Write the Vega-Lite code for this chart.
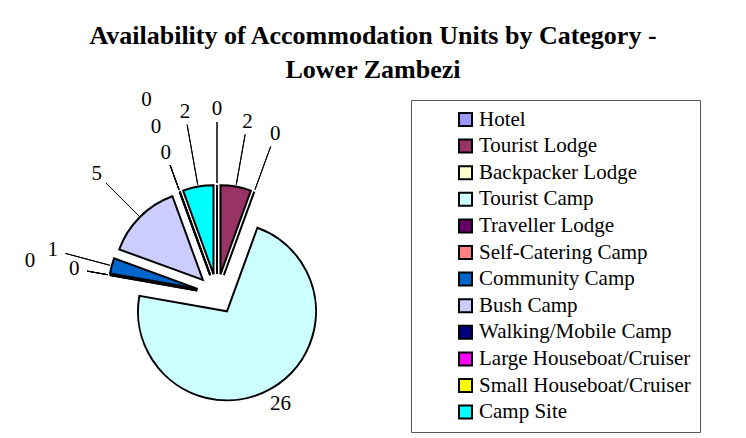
{
  "$schema": "https://vega.github.io/schema/vega-lite/v6.json",
  "width": 434,
  "height": 408,
  "autosize": {"type": "none"},
  "padding": {"left": 0, "top": 90, "right": 312, "bottom": 0},
  "background": "white",
  "config": {"view": {"stroke": null}},
  "title": {
    "text": ["Availability of Accommodation Units by Category -", "Lower Zambezi"],
    "font": "Liberation Serif",
    "fontSize": 26,
    "fontWeight": "bold",
    "color": "black",
    "anchor": "middle",
    "frame": "group",
    "dx": 156,
    "lineHeight": 34,
    "offset": 6
  },
  "data": {
    "values": [
      {"category": "Hotel", "value": 0},
      {"category": "Tourist Lodge", "value": 2},
      {"category": "Backpacker Lodge", "value": 0},
      {"category": "Tourist Camp", "value": 26},
      {"category": "Traveller Lodge", "value": 0},
      {"category": "Self-Catering Camp", "value": 0},
      {"category": "Community Camp", "value": 1},
      {"category": "Bush Camp", "value": 5},
      {"category": "Walking/Mobile Camp", "value": 0},
      {"category": "Large Houseboat/Cruiser", "value": 0},
      {"category": "Small Houseboat/Cruiser", "value": 0},
      {"category": "Camp Site", "value": 2}
    ]
  },
  "transform": [
    {"window": [{"op": "row_number", "as": "idx"}]},
    {"stack": "value", "groupby": [], "sort": [{"field": "idx", "order": "ascending"}], "as": ["v0", "v1"]}
  ],
  "resolve": {"scale": {"radius": "independent"}},
  "layer": [
    {
      "mark": {
        "type": "arc",
        "radius": 89,
        "stroke": "black",
        "strokeWidth": 2,
        "strokeJoin": "miter",
        "xOffset": {"expr": "20*sin((scale('theta', datum.v0) + scale('theta', datum.v1))/2)"},
        "yOffset": {"expr": "-20*cos((scale('theta', datum.v0) + scale('theta', datum.v1))/2)"}
      },
      "encoding": {
        "theta": {"field": "v0", "type": "quantitative", "stack": null, "scale": {"domain": [0, 36], "range": [0, 6.283185307179586]}},
        "theta2": {"field": "v1"},
        "color": {
          "field": "category",
          "type": "nominal",
          "sort": null,
          "scale": {
            "domain": ["Hotel", "Tourist Lodge", "Backpacker Lodge", "Tourist Camp", "Traveller Lodge", "Self-Catering Camp", "Community Camp", "Bush Camp", "Walking/Mobile Camp", "Large Houseboat/Cruiser", "Small Houseboat/Cruiser", "Camp Site"],
            "range": ["#9999FF", "#993366", "#FFFFCC", "#CCFFFF", "#660066", "#FF8080", "#0066CC", "#CCCCFF", "#000080", "#FF00FF", "#FFFF00", "#00FFFF"]
          },
          "legend": {
            "orient": "none",
            "legendX": 411,
            "legendY": 10,
            "title": null,
            "labelFont": "Liberation Serif",
            "labelFontSize": 21,
            "labelColor": "black",
            "labelLimit": 600,
            "labelOffset": 3,
            "labelExpr": "datum.label + '\u00a0\u00a0\u00a0\u00a0\u00a0\u00a0\u00a0\u00a0\u00a0\u00a0\u00a0\u00a0\u00a0\u00a0\u00a0\u00a0\u00a0\u00a0\u00a0\u00a0'",
            "symbolType": "square",
            "symbolSize": 169,
            "symbolStrokeColor": "black",
            "symbolStrokeWidth": 2,
            "symbolOffset": 35,
            "rowPadding": 4.6,
            "padding": 9,
            "strokeColor": "#555555"
          }
        }
      }
    },
    {
      "mark": {
        "type": "arc",
        "radius2": 91,
        "fill": null,
        "filled": false,
        "stroke": "black",
        "strokeWidth": 1,
        "thetaOffset": {"expr": "(scale('theta', datum.v1) - scale('theta', datum.v0))/2"},
        "theta2Offset": {"expr": "(scale('theta', datum.v1) - scale('theta', datum.v0))/2"},
        "xOffset": {"expr": "20*sin((scale('theta', datum.v0) + scale('theta', datum.v1))/2)"},
        "yOffset": {"expr": "-20*cos((scale('theta', datum.v0) + scale('theta', datum.v1))/2)"}
      },
      "encoding": {
        "theta": {"field": "v0", "type": "quantitative", "stack": null},
        "theta2": {"field": "v0"},
        "radius": {
          "field": "idx",
          "type": "quantitative",
          "scale": {"type": "linear", "zero": false, "nice": false, "domain": [1, 2, 3, 4, 5, 6, 7, 8, 9, 10, 11, 12], "range": [152, 142, 137, 91, 112, 112, 137, 137, 117, 117, 117, 152]}
        }
      }
    },
    {
      "mark": {
        "type": "text",
        "font": "Liberation Serif",
        "fontSize": 21,
        "color": "black",
        "align": "center",
        "baseline": "middle",
        "thetaOffset": {"expr": "(scale('theta', datum.v1) - scale('theta', datum.v0))/2"},
        "xOffset": {"expr": "20*sin((scale('theta', datum.v0) + scale('theta', datum.v1))/2)"},
        "yOffset": {"expr": "-20*cos((scale('theta', datum.v0) + scale('theta', datum.v1))/2)"}
      },
      "encoding": {
        "theta": {"field": "v0", "type": "quantitative", "stack": null},
        "text": {"field": "value", "type": "quantitative"},
        "radius": {
          "field": "idx",
          "type": "quantitative",
          "scale": {"type": "linear", "zero": false, "nice": false, "domain": [1, 2, 3, 4, 5, 6, 7, 8, 9, 10, 11, 12], "range": [165, 155, 150, 107, 125, 170, 150, 150, 130, 158, 186, 165]}
        }
      }
    }
  ]
}
